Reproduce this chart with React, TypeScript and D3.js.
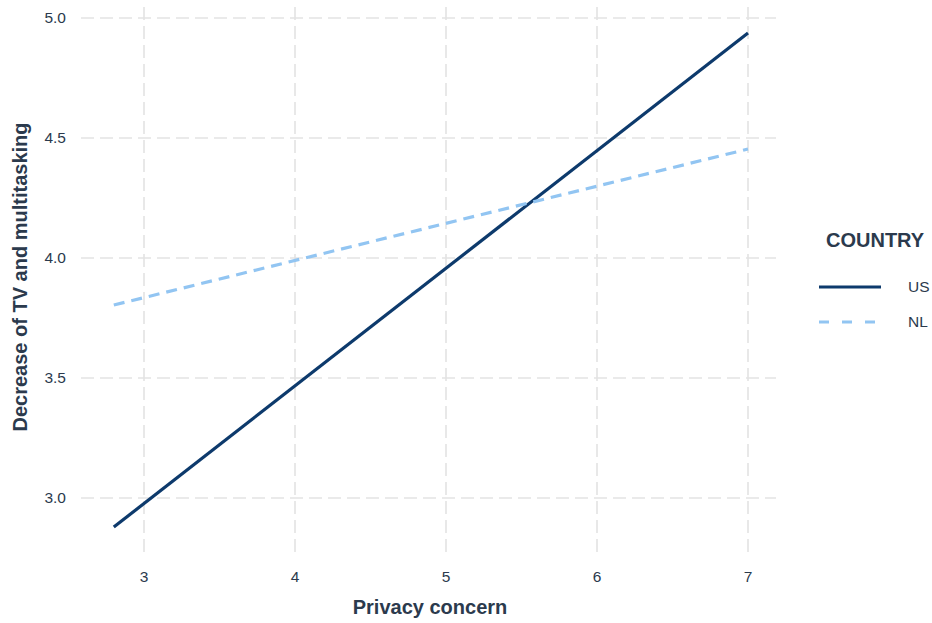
import React from "react";
import * as d3 from "d3";

const xTicks = [3, 4, 5, 6, 7];
const yTicks = [3.0, 3.5, 4.0, 4.5, 5.0];
const countries = ["US", "NL"];
const xEnds = [2.8, 7];
const usValues = [2.879, 4.9375];
const nlValues = [3.804, 4.454];

const W = 932, H = 623;
const textColor = "#2b3a4d";
const gridColor = "#e3e3e3";
const colors: Record<string, string> = { US: "#0d3a6c", NL: "#92c5f2" };
const dashes: Record<string, string | undefined> = { US: undefined, NL: "11,7" };

export default function App() {
  const x = d3.scaleLinear().domain([3, 7]).range([144, 748]);
  const y = d3.scaleLinear().domain([3, 5]).range([498, 18]);
  const line = d3.line<[number, number]>().x(d => x(d[0])).y(d => y(d[1]));
  const series = [
    { name: "US", vals: usValues },
    { name: "NL", vals: nlValues },
  ];
  const font = "'Liberation Sans', Arial, sans-serif";
  return (
    <div style={{ position: "absolute", left: 0, top: 0 }}>
      <svg width={W} height={H} style={{ display: "block", fontFamily: font }}>
        <rect width={W} height={H} fill="#fff" />
        {yTicks.map(t => (
          <line key={"gy" + t} x1={81} x2={776} y1={y(t)} y2={y(t)} stroke={gridColor} strokeWidth={1.6} strokeDasharray="13,6" />
        ))}
        {xTicks.map(t => (
          <line key={"gx" + t} x1={x(t)} x2={x(t)} y1={7} y2={552} stroke={gridColor} strokeWidth={1.6} strokeDasharray="13,6" />
        ))}
        {yTicks.map(t => (
          <text key={"ly" + t} x={66} y={y(t)} dy="0.35em" textAnchor="end" fontSize={15.5} fill={textColor}>{t.toFixed(1)}</text>
        ))}
        {xTicks.map(t => (
          <text key={"lx" + t} x={x(t)} y={577} dy="0.35em" textAnchor="middle" fontSize={15.5} fill={textColor}>{t}</text>
        ))}
        {series.map(s => (
          <path key={s.name} d={line(xEnds.map((xv, i) => [xv, s.vals[i]]) as [number, number][]) || ""}
            fill="none" stroke={colors[s.name]} strokeWidth={3.2} strokeDasharray={dashes[s.name]} />
        ))}
        <text x={430} y={607} dy="0.35em" textAnchor="middle" fontSize={20} fontWeight="bold" fill={textColor}>Privacy concern</text>
        <text transform={`translate(20,277) rotate(-90)`} dy="0.35em" textAnchor="middle" fontSize={20} fontWeight="bold" fill={textColor}>Decrease of TV and multitasking</text>
        <text x={826} y={240} dy="0.35em" fontSize={20} fontWeight="bold" fill={textColor}>COUNTRY</text>
        {countries.map((c, i) => (
          <g key={c}>
            <line x1={819} x2={881} y1={287 + i * 35} y2={287 + i * 35} stroke={colors[c]} strokeWidth={3.2} strokeDasharray={c === "NL" ? "10,13" : undefined} />
            <text x={908} y={287 + i * 35} dy="0.35em" fontSize={15.5} fill={textColor}>{c}</text>
          </g>
        ))}
      </svg>
    </div>
  );
}
